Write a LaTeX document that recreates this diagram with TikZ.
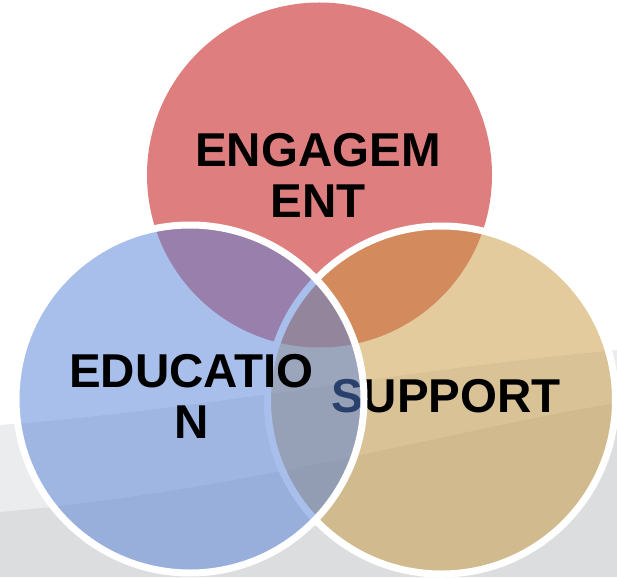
\documentclass[tikz,border=0pt]{standalone}
\usepackage{fontspec}
\setmainfont{Liberation Sans}
\usepackage{tikz}

\definecolor{engred}{RGB}{223,126,126}
\definecolor{supptan}{RGB}{200,153,61}
\definecolor{edublue}{RGB}{85,129,217}
\definecolor{swooshlight}{RGB}{235,236,238}
\definecolor{swooshdark}{RGB}{220,221,223}

\begin{document}
\begin{tikzpicture}[x=1pt, y=-1pt,
    bubble/.style={circle, minimum size=348pt, inner sep=0pt},
    rim/.style={draw=white, line width=7pt},
    word/.style={font=\fontsize{47.5}{50.5}\selectfont\bfseries, align=center, inner sep=0pt, anchor=base}]
  \useasboundingbox (0,0) rectangle (617,577);
  \fill[white] (0,0) rectangle (617,577);
  % background swooshes
  \fill[swooshlight] (0,425) .. controls (200,410) and (400,370) .. (617,350) -- (617,577) -- (0,577) -- cycle;
  \fill[swooshdark] (0,512) .. controls (250,490) and (450,430) .. (617,403) -- (617,577) -- (0,577) -- cycle;
  % engagement
  \node[bubble, minimum size=345pt, fill=engred] (eng) at (319.5,175) {};
  \node[word] (engtxt) at (318,217) {ENGAGEM\\ENT};
  % support
  \node[bubble, rim, fill=supptan, fill opacity=0.5] (supp) at (441.5,400) {};
  \node[word] (supptxt) at (446,412) {SUPPORT};
  % education
  \node[bubble, rim, fill=edublue, fill opacity=0.5] (edu) at (190,399) {};
  \node[word] (edutxt) at (191.5,438) {EDUCATIO\\N};
\end{tikzpicture}
\end{document}
